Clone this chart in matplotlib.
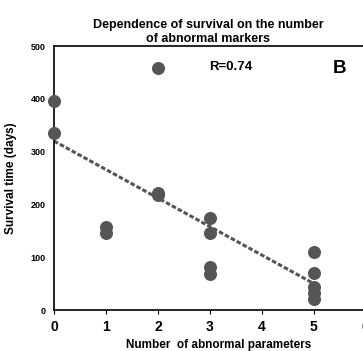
import numpy as np
import matplotlib.pyplot as plt

plt.rcParams['font.family'] = ['Liberation Sans', 'DejaVu Sans']

# =============================================================================
# Data
# =============================================================================
n_abnormal = [0, 0, 1, 1, 2, 2, 2, 3, 3, 3, 3, 5, 5, 5, 5, 5]
survival = [395, 335, 157, 145, 458, 222, 218, 174, 146, 81, 68, 110, 70, 44, 32, 20]

trend_x = [0, 5]
trend_y = [320, 50]

xticks = [0, 1, 2, 3, 4, 5, 6]
yticks = [0, 100, 200, 300, 400, 500]

# =============================================================================
# Graf
# =============================================================================
fig = plt.figure(figsize=(3.63, 3.51), dpi=100)
ax = fig.add_axes([54/363, 1 - 310/351, 330/363, 264/351])

ax.scatter(n_abnormal, survival, s=70, color='#555555', zorder=3, clip_on=False)
ax.plot(trend_x, trend_y, color='#555555', lw=2.2, ls=(0, (1.5, 0.7)), zorder=2)

ax.set_xlim(0, 6.35)
ax.set_ylim(0, 500)
ax.set_xticks(xticks)
ax.set_yticks(yticks)
ax.set_xticklabels([str(v) for v in xticks], fontsize=10, fontweight='bold')
ax.set_yticklabels([str(v) for v in yticks], fontsize=6.5, fontweight='bold')
ax.tick_params(axis='x', length=3, direction='out', pad=4)
ax.tick_params(axis='y', length=0, pad=6)

ax.spines['right'].set_visible(False)
for s in ['left', 'bottom', 'top']:
    ax.spines[s].set_linewidth(1.2)

ax.set_xlabel("Number  of abnormal parameters", fontsize=8.5, fontweight='bold', labelpad=4)
ax.set_ylabel("Survival time (days)", fontsize=8.5, fontweight='bold', labelpad=10)
fig.text(208/363, 1 - 45/351, "Dependence of survival on the number\nof abnormal markers",
         fontsize=9, fontweight='bold', ha='center', va='bottom', linespacing=1.25)

ax.text(3.4, 460, "R=0.74", fontsize=9.5, fontweight='bold', ha='center', va='center')
ax.text(5.5, 458, "B", fontsize=13.5, fontweight='bold', ha='center', va='center')

fig.savefig('out.png', dpi=100)
